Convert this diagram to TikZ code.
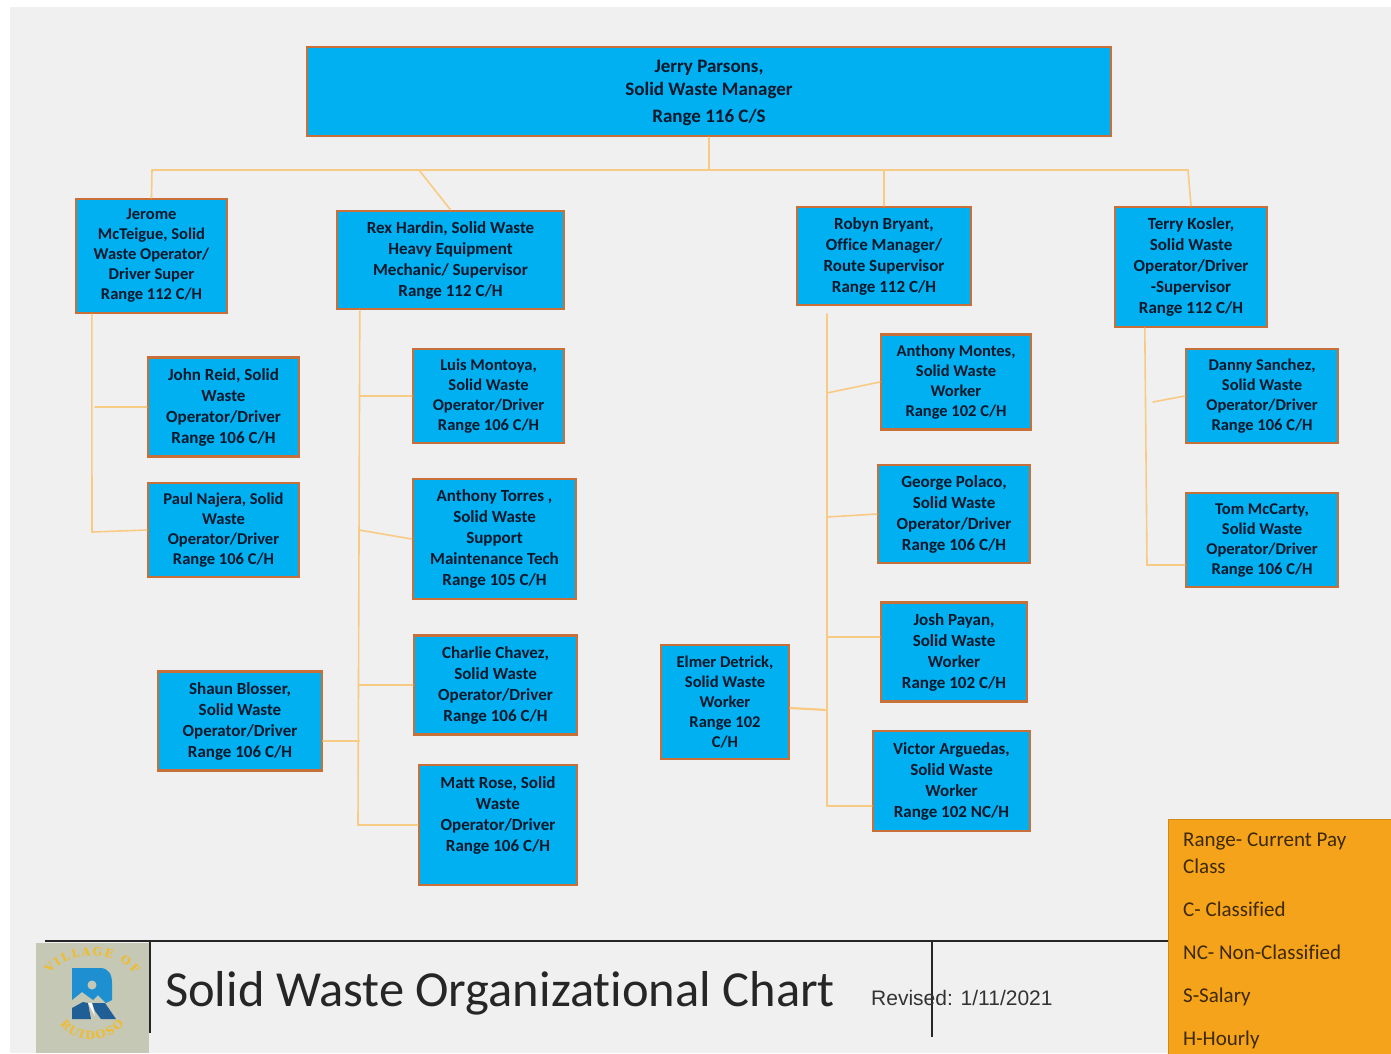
\documentclass[tikz,border=0pt]{standalone}
\usepackage{fontspec}
\setmainfont{Carlito}[Ligatures=NoCommon]
\newfontfamily\armofont{Liberation Sans}
\newfontfamily\logofont{DejaVu Serif}
\usetikzlibrary{decorations.text}
\definecolor{pagegray}{HTML}{F0F0F0}
\definecolor{boxfill}{HTML}{00B0F0}
\definecolor{boxline}{HTML}{C8703A}
\definecolor{conn}{HTML}{F8CB85}
\definecolor{legendfill}{HTML}{F5A31A}
\definecolor{logobg}{HTML}{C5C8B4}
\definecolor{logogold}{HTML}{F0BC2E}
\definecolor{logoblue}{HTML}{1E90D2}
\definecolor{logodark}{HTML}{205E96}
\definecolor{boxtext}{HTML}{06182B}
\tikzset{
 x=1pt,y=-1pt,
 orgbox/.style={draw=boxline,line width=2.4pt,fill=boxfill,inner sep=0pt,align=center,text=boxtext,font=\bfseries\fontsize{17}{21}\selectfont},
 tight/.style={font=\bfseries\fontsize{16.5}{20}\selectfont},
 headbox/.style={font=\bfseries\fontsize{19}{23}\selectfont},
 link/.style={draw=conn,line width=1.6pt,line cap=round,line join=miter},
 rule/.style={draw=black!85,line width=1.5pt},
}
\begin{document}
\begin{tikzpicture}
\useasboundingbox (0,0) rectangle (1391,1053);
\fill[white] (0,0) rectangle (1391,1053);
\fill[pagegray] (10,7) rectangle (1391,1053);

% Nodes
\node[orgbox,headbox,minimum width=804pt,minimum height=89pt] (top) at (709,91.5) {\\[-8pt]Jerry Parsons,\\Solid Waste Manager\\[4pt]Range 116 C/S};
\node[orgbox,tight,minimum width=151pt,minimum height=114pt] (jerome) at (151.5,256) {Jerome\\McTeigue, Solid\\Waste Operator/\\Driver Super\\Range 112 C/H};
\node[orgbox,minimum width=227pt,minimum height=98pt] (rex) at (450.5,260) {Rex Hardin, Solid Waste\\Heavy Equipment\\Mechanic/ Supervisor\\Range 112 C/H};
\node[orgbox,minimum width=174pt,minimum height=98pt] (robyn) at (884,256) {Robyn Bryant,\\Office Manager/\\Route Supervisor\\Range 112 C/H};
\node[orgbox,minimum width=152pt,minimum height=120pt] (terry) at (1191,267) {Terry Kosler,\\Solid Waste\\Operator/Driver\\-Supervisor\\Range 112 C/H};
\node[orgbox,minimum width=151pt,minimum height=99pt] (john) at (223.5,407) {John Reid, Solid\\Waste\\Operator/Driver\\Range 106 C/H};
\node[orgbox,tight,minimum width=151pt,minimum height=94pt] (paul) at (223.5,530) {Paul Najera, Solid\\Waste\\Operator/Driver\\Range 106 C/H};
\node[orgbox,tight,minimum width=151pt,minimum height=94pt] (luis) at (488.5,396) {Luis Montoya,\\Solid Waste\\Operator/Driver\\Range 106 C/H};
\node[orgbox,minimum width=163pt,minimum height=120pt] (torres) at (494.5,539) {Anthony Torres ,\\Solid Waste\\Support\\Maintenance Tech\\Range 105 C/H};
\node[orgbox,minimum width=163pt,minimum height=99pt] (charlie) at (495.5,685) {Charlie Chavez,\\Solid Waste\\Operator/Driver\\Range 106 C/H};
\node[orgbox,minimum width=158pt,minimum height=120pt] (matt) at (498,825) {Matt Rose, Solid\\Waste\\Operator/Driver\\Range 106 C/H\\[1pt]~};
\node[orgbox,minimum width=164pt,minimum height=99pt] (shaun) at (240,721) {Shaun Blosser,\\Solid Waste\\Operator/Driver\\Range 106 C/H};
\node[orgbox,tight,minimum width=128pt,minimum height=114pt] (elmer) at (725,702) {Elmer Detrick,\\Solid Waste\\Worker\\Range 102\\C/H};
\node[orgbox,tight,minimum width=150pt,minimum height=95pt] (anthony) at (956,382) {Anthony Montes,\\Solid Waste\\Worker\\Range 102 C/H};
\node[orgbox,minimum width=152pt,minimum height=98pt] (george) at (954,514) {George Polaco,\\Solid Waste\\Operator/Driver\\Range 106 C/H};
\node[orgbox,minimum width=146pt,minimum height=99pt] (josh) at (954,652) {Josh Payan,\\Solid Waste\\Worker\\Range 102 C/H};
\node[orgbox,minimum width=157pt,minimum height=100pt] (victor) at (951.5,781) {Victor Arguedas,\\Solid Waste\\Worker\\Range 102 NC/H};
\node[orgbox,tight,minimum width=152pt,minimum height=94pt] (danny) at (1262,396) {Danny Sanchez,\\Solid Waste\\Operator/Driver\\Range 106 C/H};
\node[orgbox,tight,minimum width=152pt,minimum height=94pt] (tom) at (1262,540) {Tom McCarty,\\Solid Waste\\Operator/Driver\\Range 106 C/H};

% Junctions
\coordinate (trunk) at (709,170);
\coordinate (busL) at (152,170);
\coordinate (busR) at (1188,170);
\coordinate (busRex) at (419,170);
\coordinate (busRobyn) at (884,170);
\coordinate (jeromeEnd) at (92,532);
\coordinate (jeromeMid) at (95,407);
\coordinate (rexEnd) at (358,825);
\coordinate (rexA) at (360,396);
\coordinate (rexB) at (359,530);
\coordinate (rexC) at (359,685);
\coordinate (rexD) at (359,741);
\coordinate (robynStart) at (827,314);
\coordinate (robynEnd) at (827,806);
\coordinate (robynA) at (827,393);
\coordinate (robynB) at (827,517);
\coordinate (robynC) at (827,637);
\coordinate (robynD) at (827,710);
\coordinate (terryEnd) at (1147,565);
\coordinate (terryA) at (1153,402);

% Connectors
\draw[link] (top.south) -- (trunk);
\draw[link] (busL) -- (busR);
\draw[link] (busL) -- (jerome.north);
\draw[link] (busRex) -- (rex.north);
\draw[link] (busRobyn) -- (robyn.north);
\draw[link] (busR) -- (terry.north);
\draw[link] ([xshift=17pt]jerome.south west) -- (jeromeEnd);
\draw[link] (jeromeMid) -- (john.west);
\draw[link] (jeromeEnd) -- (paul.west);
\draw[link] ([xshift=24pt]rex.south west) -- (rexEnd);
\draw[link] (rexA) -- (luis.west);
\draw[link] (rexB) -- (torres.west);
\draw[link] (rexC) -- (charlie.west);
\draw[link] (rexEnd) -- (matt.west);
\draw[link,line width=2.2pt] ([yshift=-20pt]shaun.east) -- (rexD);
\draw[link] (robynStart) -- (robynEnd);
\draw[link] (robynA) -- (anthony.west);
\draw[link] (robynB) -- (george.west);
\draw[link] (robynC) -- ([yshift=15pt]josh.west);
\draw[link] (robynEnd) -- ([yshift=-25pt]victor.west);
\draw[link,line width=2.2pt] ([yshift=-6pt]elmer.east) -- (robynD);
\draw[link] ([xshift=31pt]terry.south west) -- (terryEnd);
\draw[link] (terryA) -- (danny.west);
\draw[link] (terryEnd) -- ([yshift=-25pt]tom.west);

% Title block
\coordinate (ruleL) at (45,941);
\coordinate (ruleR) at (1168,941);
\draw[rule] (ruleL) -- (ruleR);
\node[fill=logobg,inner sep=0pt,minimum width=113pt,minimum height=110pt] (logo) at (92.5,998) {};
\draw[rule] (150,941) -- (150,1033);
\draw[rule] (932,941) -- (932,1037);
\node[anchor=base west,inner sep=0pt,text=black!85,font=\fontsize{50.5}{54}\selectfont] (title) at (165,1006) {Solid Waste Organizational Chart};
\node[anchor=base west,inner sep=0pt,text=black!80,font=\armofont\fontsize{21}{24}\selectfont] (revised) at (871,1005) {Revised: 1/11/2021};

% Logo
\path[decorate,decoration={text along path,text align=fit to path,text={|\logofont\bfseries\fontsize{11.5}{13}\selectfont\color{logogold}|VILLAGE OF}}]
  (50,974) .. controls (66,950) and (116,950) .. (135,974);
\path[decorate,decoration={text along path,text align=fit to path,text={|\logofont\bfseries\fontsize{11.5}{13}\selectfont\color{logogold}|RUIDOSO}}]
  (60,1024) .. controls (75,1045) and (107,1045) .. (124,1024);
\fill[logoblue] (72,968) -- (100,968) .. controls (109,968) and (112,975) .. (112,983) -- (112,1000) -- (106,1003) -- (98,995) -- (93,1000) -- (82,992) -- (72,1000) -- cycle;
\fill[logobg] (92,985) circle (4.5);
\fill[logodark] (72,1019) -- (72,1008) -- (83,1002) -- (88,1003) -- (91,1019) -- cycle;
\fill[logodark] (92,1003) -- (105,1003) -- (116,1019) -- (101,1019) -- (95,1011) -- cycle;
\fill[white] (88,1003) -- (92,1003) -- (95,1016) -- cycle;

% Legend
\node[anchor=north west,draw=legendfill!85!black,line width=1pt,fill=legendfill,inner sep=0pt,minimum width=224pt,minimum height=235pt] (legend) at (1168,819) {};
\node[anchor=north west,inner sep=0pt,align=left,text=black!75!legendfill,font=\fontsize{21}{27}\selectfont] (legendtext) at (1183,833) {Range- Current Pay\\Class\\[16pt]C- Classified\\[16pt]NC- Non-Classified\\[16pt]S-Salary\\[16pt]H-Hourly};
\end{tikzpicture}
\end{document}
